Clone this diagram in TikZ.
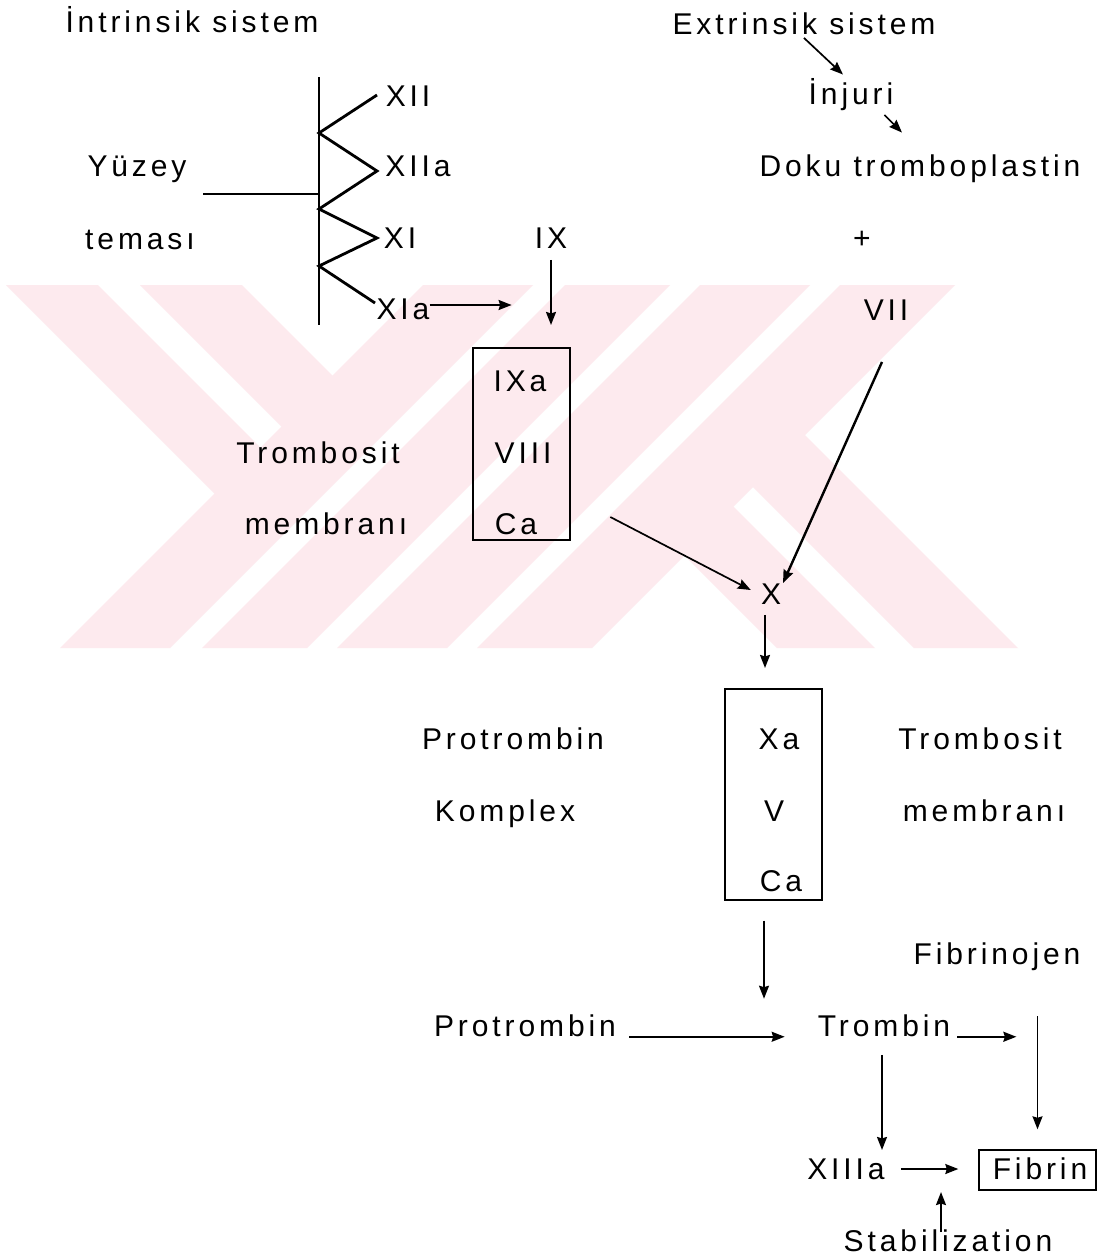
\documentclass[tikz,border=0pt]{standalone}
\usepackage{fontspec}
\setmainfont{Liberation Sans}[LetterSpace=13]
\usetikzlibrary{arrows.meta}
\definecolor{wmark}{RGB}{253,234,238}
\tikzset{
  lbl/.style={inner sep=0pt, text height=21.5pt, text depth=0pt},
  arr/.style={line width=1.7pt, -{Stealth[length=13pt,width=10pt,inset=1.5pt]}},
  arrbold/.style={arr, line width=2.4pt},
  cbox/.style={draw, line width=1.4pt, inner sep=0pt},
}

\begin{document}
\begin{tikzpicture}[x=1pt, y=-1pt, font=\fontsize{30}{36}\selectfont]
      %%%%% START %%%%%
      \path[fill=white, use as bounding box] (0,0) rectangle (1104,1259);

      % watermark
      \begin{scope}
        \clip (0,285) rectangle (1104,648);
        \fill[wmark] (423,285) -- (533,285) -- (170,648) -- (60,648) -- cycle;
        \fill[wmark] (565,285) -- (670,285) -- (307,648) -- (202,648) -- cycle;
        \fill[wmark] (700,285) -- (810,285) -- (447,648) -- (337,648) -- cycle;
        \fill[wmark] (840,285) -- (955,285) -- (592,648) -- (477,648) -- cycle;
        \fill[wmark] (6,285) -- (98,285) -- (266.5,453.5) -- (220.5,499.5) -- cycle;
        \fill[wmark] (140,285) -- (242,285) -- (338.5,381.5) -- (287.5,432.5) -- cycle;
        \fill[wmark] (678.5,549.5) -- (727.5,500.5) -- (875,648) -- (777,648) -- cycle;
        \fill[wmark] (747,481) -- (799,429) -- (1018,648) -- (914,648) -- cycle;
      \end{scope}

      % intrinsik
      \node[lbl] (intr) at (192,22) {İntrinsik sistem};
      \node[lbl] (xii) at (408,96) {XII};
      \node[lbl] (xiia) at (418,166) {XIIa};
      \node[lbl] (xi) at (400,238) {XI};
      \node[lbl] (xia) at (403,309) {XIa};
      \node[lbl] (yuzey) at (137,166) {Yüzey};
      \node[lbl] (temas) at (140,239) {teması};
      \node[lbl] (ix) at (551,238) {IX};

      \draw[line width=1.6pt] (319,77) -- (319,325);
      \draw[line width=1.3pt] (203,194) -- (319,194);
      \draw[line width=2.8pt] (377,95) -- (319,133) -- (377,171) -- (319,209) -- (377,238) -- (319,266) -- (375,303);

      \draw[arr] ([yshift=4pt]xia.east) -- ([xshift=82pt,yshift=4pt]xia.east);
      \draw[arr] ([yshift=-11pt]ix.south) -- ([yshift=-76pt]ix.south);

      \node[cbox, minimum width=97pt, minimum height=192pt] (box1) at (521.5,444) {};
      \node[lbl] (ixa) at (520,381) {IXa};
      \node[lbl] (viii) at (523,453) {VIII};
      \node[lbl] (caA) at (516,524) {Ca};
      \node[lbl] (trombL) at (318,453) {Trombosit};
      \node[lbl] (membL) at (326,524) {membranı};

      % extrinsik
      \node[lbl] (extr) at (804,24) {Extrinsik sistem};
      \node[lbl] (inj) at (851,94) {İnjuri};
      \node[lbl] (doku) at (920,166) {Doku tromboplastin};
      \node[lbl] (plus) at (862,238) {+};
      \node[lbl] (vii) at (886,310) {VII};

      \draw[arr] ([yshift=-3pt]extr.south) -- ([xshift=-8pt,yshift=8.5pt]inj.north);
      \draw[arr] ([xshift=-9pt,yshift=-10pt]inj.south east) -- ([xshift=-18pt,yshift=22.5pt]doku.north);

      % X
      \node[lbl] (xn) at (771,594) {X};
      \draw[arrbold] ([xshift=-4pt,yshift=-41pt]vii.south) -- ([xshift=12pt]xn.north);
      \draw[arr] ([xshift=73pt,yshift=7pt]caA.east) -- ([xshift=-10pt,yshift=4pt]xn.west);
      \draw[arr] ([xshift=-6pt,yshift=-10pt]xn.south) -- ([xshift=-6pt,yshift=-63pt]xn.south);

      \node[cbox, minimum width=97pt, minimum height=211pt] (box2) at (773.5,794.5) {};
      \node[lbl] (xa) at (779,739) {Xa};
      \node[lbl] (fv) at (774,811) {V};
      \node[lbl] (caB) at (781,881) {Ca};
      \node[lbl] (protA) at (513,739) {Protrombin};
      \node[lbl] (kompl) at (505,811) {Komplex};
      \node[lbl] (trombR) at (980,739) {Trombosit};
      \node[lbl] (membR) at (984,811) {membranı};

      % trombin, fibrin
      \node[lbl] (fibjen) at (997,954) {Fibrinojen};
      \node[lbl] (protB) at (525,1026) {Protrombin};
      \node[lbl] (trombin) at (884,1026) {Trombin};
      \node[lbl] (xiiia) at (846,1169) {XIIIa};
      \node[cbox, minimum width=117pt, minimum height=40pt] (fibbox) at (1037.5,1170) {};
      \node[lbl] (fibrin) at (1040,1169) {Fibrin};
      \node[lbl] (stab) at (948,1241) {Stabilization};

      \draw[arr] ([xshift=-9.5pt,yshift=-20pt]box2.south) -- ([xshift=-9.5pt,yshift=-98pt]box2.south);
      \draw[arr, shorten <=13pt, shorten >=33pt] (protB.base east) -- (trombin.base west);
      \draw[arr] ([xshift=7pt]trombin.base east) -- ([xshift=66pt]trombin.base east);
      \draw[arr] ([yshift=133pt]fibbox.north) -- ([yshift=20pt]fibbox.north);
      \draw[arr] ([xshift=-2pt,yshift=-18pt]trombin.south) -- ([xshift=-2pt,yshift=-113pt]trombin.south);
      \draw[arr, shorten <=16pt, shorten >=20pt] (xiiia.east) -- (xiiia.east -| fibbox.west);
      \draw[arr] ([xshift=-7pt,yshift=-2pt]stab.north) -- ([xshift=-7pt,yshift=38pt]stab.north);

      %%%%% END %%%%%
\end{tikzpicture}
\end{document}
